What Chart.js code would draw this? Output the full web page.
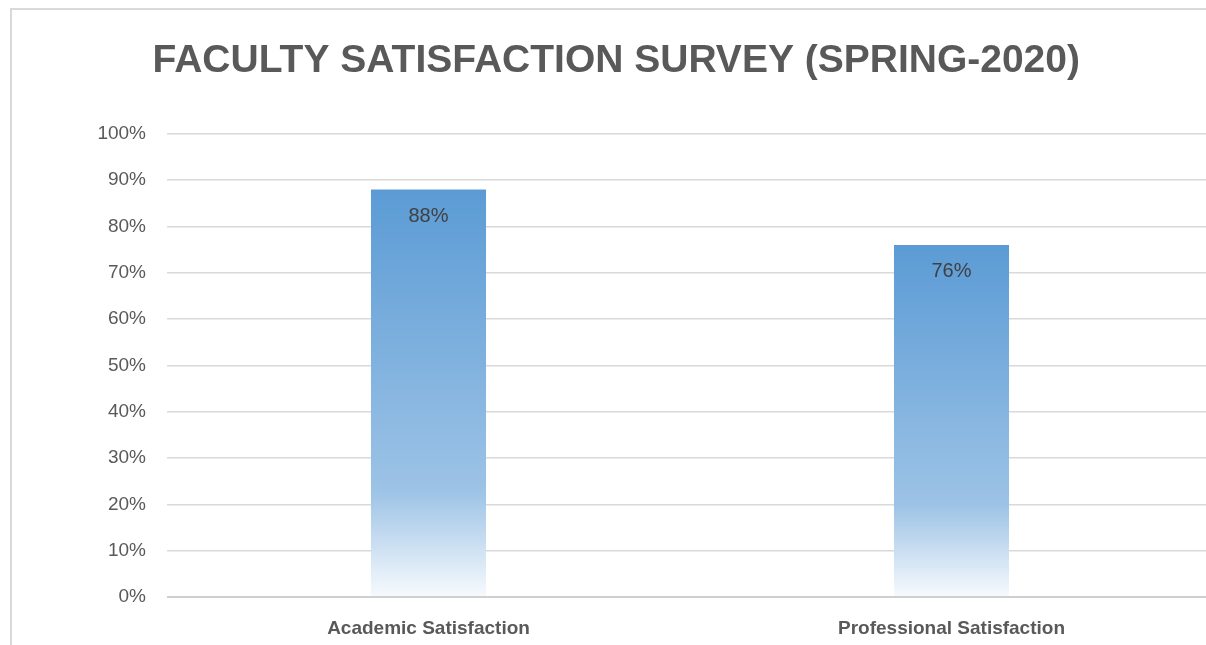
<!DOCTYPE html>
<html>
<head>
<meta charset="utf-8">
<script src="https://cdn.jsdelivr.net/npm/chart.js@4.4.0/dist/chart.umd.min.js"></script>
<style>
  html, body { margin: 0; padding: 0; background: #ffffff; overflow: hidden; }
  #wrap { position: relative; width: 1206px; height: 645px; overflow: hidden; }
  #frame { position: absolute; left: 10px; top: 8px; right: -4px; bottom: -4px;
           border-top: 2px solid #d9d9d9; border-left: 2px solid #d9d9d9; }
  canvas { position: absolute; left: 0; top: 0; }
</style>
</head>
<body>
<div id="wrap">
  <div id="frame"></div>
  <canvas id="c" width="1213" height="645"></canvas>
</div>
<script>
const categories = ["Academic Satisfaction", "Professional Satisfaction"];
const satisfaction = [88, 76];
const yTicks = [0, 10, 20, 30, 40, 50, 60, 70, 80, 90, 100];
const chartTitle = "\u2002FACULTY SATISFACTION SURVEY (SPRING-2020)";

function barGradient(ctx) {
  const chart = ctx.chart;
  if (!chart.chartArea || ctx.type !== 'data') return '#5B9BD5';
  const ys = chart.scales.y;
  const top = ys.getPixelForValue(ctx.raw);
  const bottom = ys.getPixelForValue(0);
  const g = chart.ctx.createLinearGradient(0, top, 0, bottom);
  g.addColorStop(0, '#5B9BD5');
  g.addColorStop(0.74, '#9DC3E6');
  g.addColorStop(1, '#F7FAFD');
  return g;
}

const valueLabels = {
  id: 'valueLabels',
  afterDatasetsDraw(chart) {
    const ctx = chart.ctx;
    const meta = chart.getDatasetMeta(0);
    ctx.save();
    ctx.font = '20px "Liberation Sans", Arial, sans-serif';
    ctx.fillStyle = '#404040';
    ctx.textAlign = 'center';
    ctx.textBaseline = 'middle';
    meta.data.forEach((bar, i) => {
      ctx.fillText(satisfaction[i] + '%', bar.x, bar.y + 27);
    });
    ctx.restore();
  }
};

new Chart(document.getElementById('c'), {
  type: 'bar',
  data: {
    labels: categories,
    datasets: [{
      data: satisfaction,
      backgroundColor: barGradient,
      borderWidth: 0,
      categoryPercentage: 1.0,
      barPercentage: 0.22
    }]
  },
  options: {
    responsive: false,
    animation: false,
    layout: { padding: { left: 0, right: 0, top: 0, bottom: 0 } },
    plugins: {
      legend: { display: false },
      tooltip: { enabled: false },
      title: {
        display: true,
        text: chartTitle,
        color: '#595959',
        font: { family: '"Liberation Sans", Arial, sans-serif', size: 39, weight: 'bold', lineHeight: 1.2 },
        padding: { top: 38, bottom: 49 }
      }
    },
    scales: {
      x: {
        grid: { display: false, drawTicks: false },
        border: { display: false },
        ticks: {
          color: '#595959',
          font: { family: '"Liberation Sans", Arial, sans-serif', size: 19, weight: 'bold' },
          padding: 20
        },
        afterFit(scale) { scale.height = 48; }
      },
      y: {
        min: 0,
        max: 100,
        afterBuildTicks(scale) { scale.ticks = yTicks.map(v => ({ value: v })); },
        grid: {
          drawTicks: false,
          color: (c) => c.tick && c.tick.value === 0 ? '#cfcfcf' : '#d9d9d9',
          lineWidth: (c) => c.tick && c.tick.value === 0 ? 2 : 1.5
        },
        border: { display: false },
        ticks: {
          color: '#595959',
          font: { family: '"Liberation Sans", Arial, sans-serif', size: 19 },
          padding: 21,
          callback: (v) => v + '%'
        },
        afterFit(scale) { scale.width = 167; }
      }
    }
  },
  plugins: [valueLabels]
});
</script>
</body>
</html>
